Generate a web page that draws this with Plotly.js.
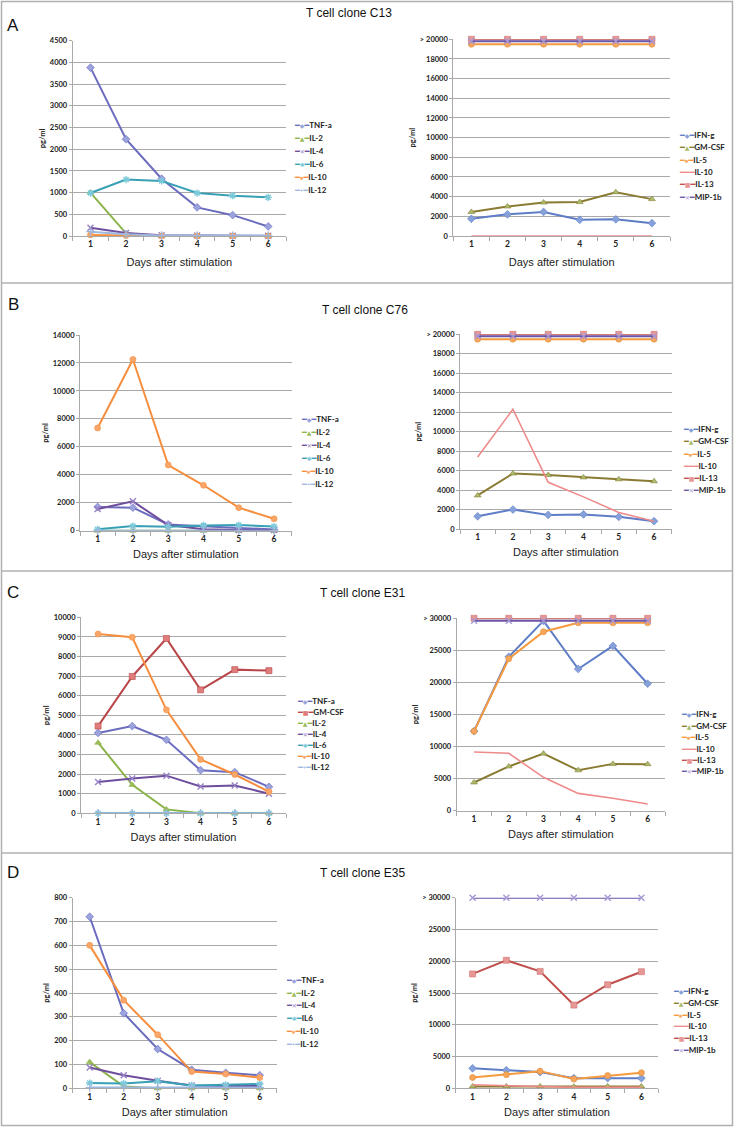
<!DOCTYPE html>
<html><head><meta charset="utf-8">
<script src="https://cdn.plot.ly/plotly-3.0.1.min.js"></script>
<style>html,body{margin:0;padding:0;background:#fff;}</style>
</head><body><div id="chart" style="width:735px;height:1127px;"></div>
<script>
const W = 735, H = 1127;
const days = [1, 2, 3, 4, 5, 6];
const dayLabels = ['1', '2', '3', '4', '5', '6'];

// ---------- Panel A: T cell clone C13 ----------
const c13_left_names = ['TNF-a', 'IL-2', 'IL-4', 'IL-6', 'IL-10', 'IL-12'];
const c13_TNFa = [3880, 2230, 1320, 660, 480, 220];
const c13_IL2 = [1000, 60, 0, 0, 0, 0];
const c13_IL4 = [190, 70, 15, 10, 5, 5];
const c13_IL6 = [990, 1300, 1270, 990, 930, 890];
const c13_IL10 = [25, 10, 0, 0, 0, 0];
const c13_IL12 = [100, 40, 10, 5, 5, 5];
const c13_right_names = ['IFN-g', 'GM-CSF', 'IL-5', 'IL-10', 'IL-13', 'MIP-1b'];
const c13_IFNg = [1750, 2200, 2450, 1650, 1700, 1300];
const c13_GMCSF = [2450, 3000, 3400, 3450, 4450, 3750];
const c13_IL5 = [19500, 19500, 19500, 19500, 19500, 19500];
const c13_IL10r = [0, 0, 0, 0, 0, 0];
const c13_IL13 = [20000, 20000, 20000, 20000, 20000, 20000];
const c13_MIP1b = [19800, 19800, 19800, 19800, 19800, 19800];

// ---------- Panel B: T cell clone C76 ----------
const c76_left_names = ['TNF-a', 'IL-2', 'IL-4', 'IL-6', 'IL-10', 'IL-12'];
const c76_TNFa = [1700, 1650, 450, 300, 200, 80];
const c76_IL2 = [0, 0, 0, 0, 0, 0];
const c76_IL4 = [1550, 2100, 400, 100, 50, 50];
const c76_IL6 = [100, 330, 280, 380, 400, 300];
const c76_IL10 = [7350, 12250, 4700, 3250, 1650, 850];
const c76_IL12 = [0, 0, 0, 0, 0, 0];
const c76_right_names = ['IFN-g', 'GM-CSF', 'IL-5', 'IL-10', 'IL-13', 'MIP-1b'];
const c76_IFNg = [1300, 2000, 1450, 1500, 1250, 800];
const c76_GMCSF = [3450, 5700, 5550, 5300, 5100, 4900];
const c76_IL5 = [19500, 19500, 19500, 19500, 19500, 19500];
const c76_IL10r = [7400, 12300, 4800, 3300, 1700, 800];
const c76_IL13 = [20000, 20000, 20000, 20000, 20000, 20000];
const c76_MIP1b = [19800, 19800, 19800, 19800, 19800, 19800];

// ---------- Panel C: T cell clone E31 ----------
const e31_left_names = ['TNF-a', 'GM-CSF', 'IL-2', 'IL-4', 'IL-6', 'IL-10', 'IL-12'];
const e31_TNFa = [4100, 4450, 3750, 2200, 2100, 1350];
const e31_GMCSF = [4450, 6980, 8920, 6300, 7330, 7280];
const e31_IL2 = [3600, 1450, 200, 0, 0, 0];
const e31_IL4 = [1600, 1780, 1920, 1370, 1420, 1000];
const e31_IL6 = [0, 0, 0, 0, 0, 0];
const e31_IL10 = [9150, 8980, 5280, 2750, 1980, 1100];
const e31_IL12 = [0, 0, 0, 0, 0, 0];
const e31_right_names = ['IFN-g', 'GM-CSF', 'IL-5', 'IL-10', 'IL-13', 'MIP-1b'];
const e31_IFNg = [12400, 24000, 29600, 22100, 25700, 19800];
const e31_GMCSFr = [4400, 6900, 8900, 6300, 7300, 7250];
const e31_IL5 = [12400, 23700, 27900, 29300, 29300, 29300];
const e31_IL10r = [9150, 8950, 5200, 2700, 1950, 1050];
const e31_IL13 = [30000, 30000, 30000, 30000, 30000, 30000];
const e31_MIP1b = [29600, 29600, 29600, 29600, 29600, 29600];

// ---------- Panel D: T cell clone E35 ----------
const e35_left_names = ['TNF-a', 'IL-2', 'IL-4', 'IL6', 'IL-10', 'IL-12'];
const e35_TNFa = [720, 315, 165, 78, 65, 55];
const e35_IL2 = [110, 8, 0, 0, 0, 0];
const e35_IL4 = [87, 55, 32, 12, 10, 10];
const e35_IL6 = [22, 20, 30, 12, 15, 18];
const e35_IL10 = [600, 370, 225, 70, 60, 45];
const e35_IL12 = [3, 3, 3, 3, 3, 3];
const e35_right_names = ['IFN-g', 'GM-CSF', 'IL-5', 'IL-10', 'IL-13', 'MIP-1b'];
const e35_IFNg = [3150, 2850, 2550, 1600, 1600, 1600];
const e35_GMCSF = [300, 300, 300, 250, 300, 300];
const e35_IL5 = [1700, 2150, 2700, 1450, 2000, 2450];
const e35_IL10r = [550, 400, 250, 150, 150, 150];
const e35_IL13 = [18000, 20150, 18400, 13100, 16300, 18350];
const e35_MIP1b = [30000, 30000, 30000, 30000, 30000, 30000];

// ---------- Tick labels ----------
const ticksA_left = [0, 500, 1000, 1500, 2000, 2500, 3000, 3500, 4000, 4500];
const tickTextA_left = ['0', '500', '1000', '1500', '2000', '2500', '3000', '3500', '4000', '4500'];
const ticks20k = [0, 2000, 4000, 6000, 8000, 10000, 12000, 14000, 16000, 18000, 20000];
const tickText20k = ['0', '2000', '4000', '6000', '8000', '10000', '12000', '14000', '16000', '18000', '> 20000'];
const ticksB_left = [0, 2000, 4000, 6000, 8000, 10000, 12000, 14000];
const tickTextB_left = ['0', '2000', '4000', '6000', '8000', '10000', '12000', '14000'];
const ticksC_left = [0, 1000, 2000, 3000, 4000, 5000, 6000, 7000, 8000, 9000, 10000];
const tickTextC_left = ['0', '1000', '2000', '3000', '4000', '5000', '6000', '7000', '8000', '9000', '10000'];
const ticks30k = [0, 5000, 10000, 15000, 20000, 25000, 30000];
const tickText30k = ['0', '5000', '10000', '15000', '20000', '25000', '> 30000'];
const ticksD_left = [0, 100, 200, 300, 400, 500, 600, 700, 800];
const tickTextD_left = ['0', '100', '200', '300', '400', '500', '600', '700', '800'];

// ---------- Series styles ----------
const styles = {
  'L|TNF-a':  {line: '#6C6CBE', mc: '#9AA3DD', ml: '#6C6CBE', sym: 'diamond', glyph: '◆'},
  'L|GM-CSF': {line: '#B9474A', mc: '#E07C7A', ml: '#B9474A', sym: 'square', glyph: '■'},
  'L|IL-2':   {line: '#8DB34B', mc: '#9BBB59', ml: '#8DB34B', sym: 'triangle-up', glyph: '▲'},
  'L|IL-4':   {line: '#6F4E9E', mc: '#9682C4', ml: '#9682C4', sym: 'x-thin-open', glyph: '✕'},
  'L|IL-6':   {line: '#38A0B6', mc: '#7CCAD9', ml: '#7CCAD9', sym: 'asterisk-open', glyph: '✱'},
  'L|IL6':    {line: '#38A0B6', mc: '#7CCAD9', ml: '#7CCAD9', sym: 'asterisk-open', glyph: '✱'},
  'L|IL-10':  {line: '#F58E3E', mc: '#F9A66A', ml: '#F58E3E', sym: 'circle', glyph: '●'},
  'L|IL-12':  {line: '#9DB7DF', mc: '#9DB7DF', ml: '#9DB7DF', sym: 'cross-thin-open', glyph: '+'},
  'R|IFN-g':  {line: '#5E7DC6', mc: '#86A0DA', ml: '#5E7DC6', sym: 'diamond', glyph: '◆'},
  'R|GM-CSF': {line: '#8A7B33', mc: '#A9BD6C', ml: '#8A7B33', sym: 'triangle-up', glyph: '▲'},
  'R|IL-5':   {line: '#F59A3E', mc: '#F7A65C', ml: '#E08A30', sym: 'circle', glyph: '●'},
  'R|IL-10':  {line: '#EF8A8A', mc: null, ml: null, sym: null, glyph: null},
  'R|IL-13':  {line: '#C0504D', mc: '#E69896', ml: '#D07070', sym: 'square', glyph: '■'},
  'R|MIP-1b': {line: '#6A55A6', mc: '#A598D4', ml: '#A598D4', sym: 'x-thin-open', glyph: '✕'}
};

// ---------- Panel layout (positions in px) ----------
const panels = [
  {side: 'L', names: c13_left_names, series: [c13_TNFa, c13_IL2, c13_IL4, c13_IL6, c13_IL10, c13_IL12],
   ymax: 4500, tv: ticksA_left, tt: tickTextA_left, x0: 72.7, x1: 286, yT: 40.7, yB: 236, lx: 292, ly: 125, ldy: 13, xs: 10},
  {side: 'R', names: c13_right_names, series: [c13_IFNg, c13_GMCSF, c13_IL5, c13_IL10r, c13_IL13, c13_MIP1b],
   ymax: 20000, tv: ticks20k, tt: tickText20k, x0: 453.3, x1: 670, yT: 39.3, yB: 236, lx: 677, ly: 135, ldy: 12.3, xs: 10},
  {side: 'L', names: c76_left_names, series: [c76_TNFa, c76_IL2, c76_IL4, c76_IL6, c76_IL10, c76_IL12],
   ymax: 14000, tv: ticksB_left, tt: tickTextB_left, x0: 80, x1: 291.7, yT: 335, yB: 530.7, lx: 299, ly: 419, ldy: 12.9, xs: 7},
  {side: 'R', names: c76_right_names, series: [c76_IFNg, c76_GMCSF, c76_IL5, c76_IL10r, c76_IL13, c76_MIP1b],
   ymax: 20000, tv: ticks20k, tt: tickText20k, x0: 460, x1: 671.7, yT: 334.3, yB: 529, lx: 680.5, ly: 429.3, ldy: 12.1, xs: 7},
  {side: 'L', names: e31_left_names, series: [e31_TNFa, e31_GMCSF, e31_IL2, e31_IL4, e31_IL6, e31_IL10, e31_IL12],
   ymax: 10000, tv: ticksC_left, tt: tickTextC_left, x0: 81, x1: 286, yT: 617.3, yB: 813.3, lx: 294.5, ly: 701, ldy: 10.95, xs: 7},
  {side: 'R', names: e31_right_names, series: [e31_IFNg, e31_GMCSFr, e31_IL5, e31_IL10r, e31_IL13, e31_MIP1b],
   ymax: 30000, tv: ticks30k, tt: tickText30k, x0: 456.7, x1: 665, yT: 618.3, yB: 810.7, lx: 679, ly: 714.3, ldy: 11.4, xs: 7},
  {side: 'L', names: e35_left_names, series: [e35_TNFa, e35_IL2, e35_IL4, e35_IL6, e35_IL10, e35_IL12],
   ymax: 800, tv: ticksD_left, tt: tickTextD_left, x0: 72.7, x1: 276.7, yT: 897.7, yB: 1088.3, lx: 284, ly: 980, ldy: 12.7, xs: 7},
  {side: 'R', names: e35_right_names, series: [e35_IFNg, e35_GMCSF, e35_IL5, e35_IL10r, e35_IL13, e35_MIP1b],
   ymax: 30000, tv: ticks30k, tt: tickText30k, x0: 455.7, x1: 658.3, yT: 897.7, yB: 1088.3, lx: 670.5, ly: 990.7, ldy: 11.9, xs: 7}
];

const panelTitles = [
  {text: 'T cell clone C13', x: 348.5, y: 13, letter: 'A', ly: 25},
  {text: 'T cell clone C76', x: 365, y: 310, letter: 'B', ly: 305},
  {text: 'T cell clone E31', x: 362.5, y: 592.7, letter: 'C', ly: 592.7},
  {text: 'T cell clone E35', x: 362.5, y: 872.7, letter: 'D', ly: 872.7}
];

const GRID = '#A9A9A9';
const traces = [];
const annotations = [];
const layout = {
  width: W, height: H,
  margin: {l: 0, r: 0, t: 0, b: 0},
  paper_bgcolor: '#ffffff', plot_bgcolor: '#ffffff',
  showlegend: false,
  font: {family: 'Lato, "DejaVu Sans", sans-serif', color: '#222'},
  shapes: [],
  annotations: annotations
};

const minorVals = [0.5, 1.5, 2.5, 3.5, 4.5, 5.5, 6.5];

panels.forEach((p, i) => {
  const k = i + 1;
  const xs = k === 1 ? '' : String(k);
  p.series.forEach((vals, j) => {
    const st = styles[p.side + '|' + p.names[j]];
    const t = {
      type: 'scatter', x: days, y: vals, name: p.names[j],
      xaxis: 'x' + xs, yaxis: 'y' + xs, cliponaxis: false,
      line: {color: st.line, width: 2},
      hoverinfo: 'skip'
    };
    if (st.sym) {
      t.mode = 'lines+markers';
      const open = st.sym.indexOf('open') >= 0;
      t.marker = {symbol: st.sym, size: 6, color: st.mc,
        line: {color: st.ml, width: open ? 1.4 : 0.6}};
    } else {
      t.mode = 'lines';
      t.line.width = 1.6;
    }
    traces.push(t);
  });

  layout['xaxis' + xs] = {
    domain: [p.x0 / W, p.x1 / W], anchor: 'y' + xs,
    range: [0.5, 6.5], tickmode: 'array', tickvals: days, ticktext: dayLabels,
    ticks: '', showgrid: false, zeroline: false, showline: true, linecolor: GRID, linewidth: 1,
    tickfont: {family: 'Lato', size: 8.5, color: '#222', weight: 'bold'},
    minor: {tickmode: 'array', tickvals: minorVals, ticks: 'outside', ticklen: 4, tickcolor: GRID, tickwidth: 1, showgrid: false},
    title: {text: 'Days after stimulation', font: {family: '"Liberation Sans", Arial, sans-serif', size: 11, color: '#222'}, standoff: p.xs},
    fixedrange: true
  };
  layout['yaxis' + xs] = {
    domain: [1 - p.yB / H, 1 - p.yT / H], anchor: 'x' + xs,
    range: [0, p.ymax], tickmode: 'array', tickvals: p.tv, ticktext: p.tt,
    showgrid: true, gridcolor: GRID, gridwidth: 1, zeroline: false,
    showline: true, linecolor: GRID, linewidth: 1,
    ticks: 'outside', ticklen: 3, tickcolor: GRID,
    tickfont: {family: 'Lato', size: 7.5, color: '#222', weight: 'bold'},
    title: {text: 'pg/ml', font: {family: 'Lato', size: 7.5, color: '#222', weight: 'bold'}, standoff: 3},
    fixedrange: true
  };

  // legend entries
  p.names.forEach((nm, j) => {
    const st = styles[p.side + '|' + nm];
    const sym = st.glyph
      ? '<span style="color:' + st.line + '">━</span><span style="color:' + (st.mc || st.line) + ';font-size:6px">' + st.glyph + '</span><span style="color:' + st.line + '">━</span>'
      : '<span style="color:' + st.line + '">━━━</span>';
    annotations.push({
      xref: 'paper', yref: 'paper', x: p.lx / W, y: 1 - (p.ly + j * p.ldy) / H,
      xanchor: 'left', yanchor: 'middle', showarrow: false, align: 'left',
      text: sym + '<b>' + nm + '</b>',
      font: {family: 'Lato, "DejaVu Sans", sans-serif', size: 8, color: '#222'}
    });
  });
});

panelTitles.forEach(t => {
  annotations.push({xref: 'paper', yref: 'paper', x: t.x / W, y: 1 - t.y / H, xanchor: 'center', yanchor: 'middle',
    showarrow: false, text: t.text, font: {family: '"Liberation Sans", Arial, sans-serif', size: 12, color: '#111'}});
  annotations.push({xref: 'paper', yref: 'paper', x: 13 / W, y: 1 - t.ly / H, xanchor: 'center', yanchor: 'middle',
    showarrow: false, text: t.letter, font: {family: '"Liberation Sans", Arial, sans-serif', size: 17, color: '#111'}});
});

// panel frames
const BORDER = '#B0B0B0';
layout.shapes.push({type: 'rect', xref: 'paper', yref: 'paper', x0: 1.5 / W, x1: 732.5 / W, y0: 1 - 1125.5 / H, y1: 1 - 1.5 / H,
  line: {color: BORDER, width: 1.5}});
[283, 571, 853].forEach(yy => {
  layout.shapes.push({type: 'line', xref: 'paper', yref: 'paper', x0: 1.5 / W, x1: 732.5 / W, y0: 1 - yy / H, y1: 1 - yy / H,
    line: {color: BORDER, width: 1.5}});
});

Plotly.newPlot('chart', traces, layout, {staticPlot: true, displayModeBar: false});
</script>
</body></html>
